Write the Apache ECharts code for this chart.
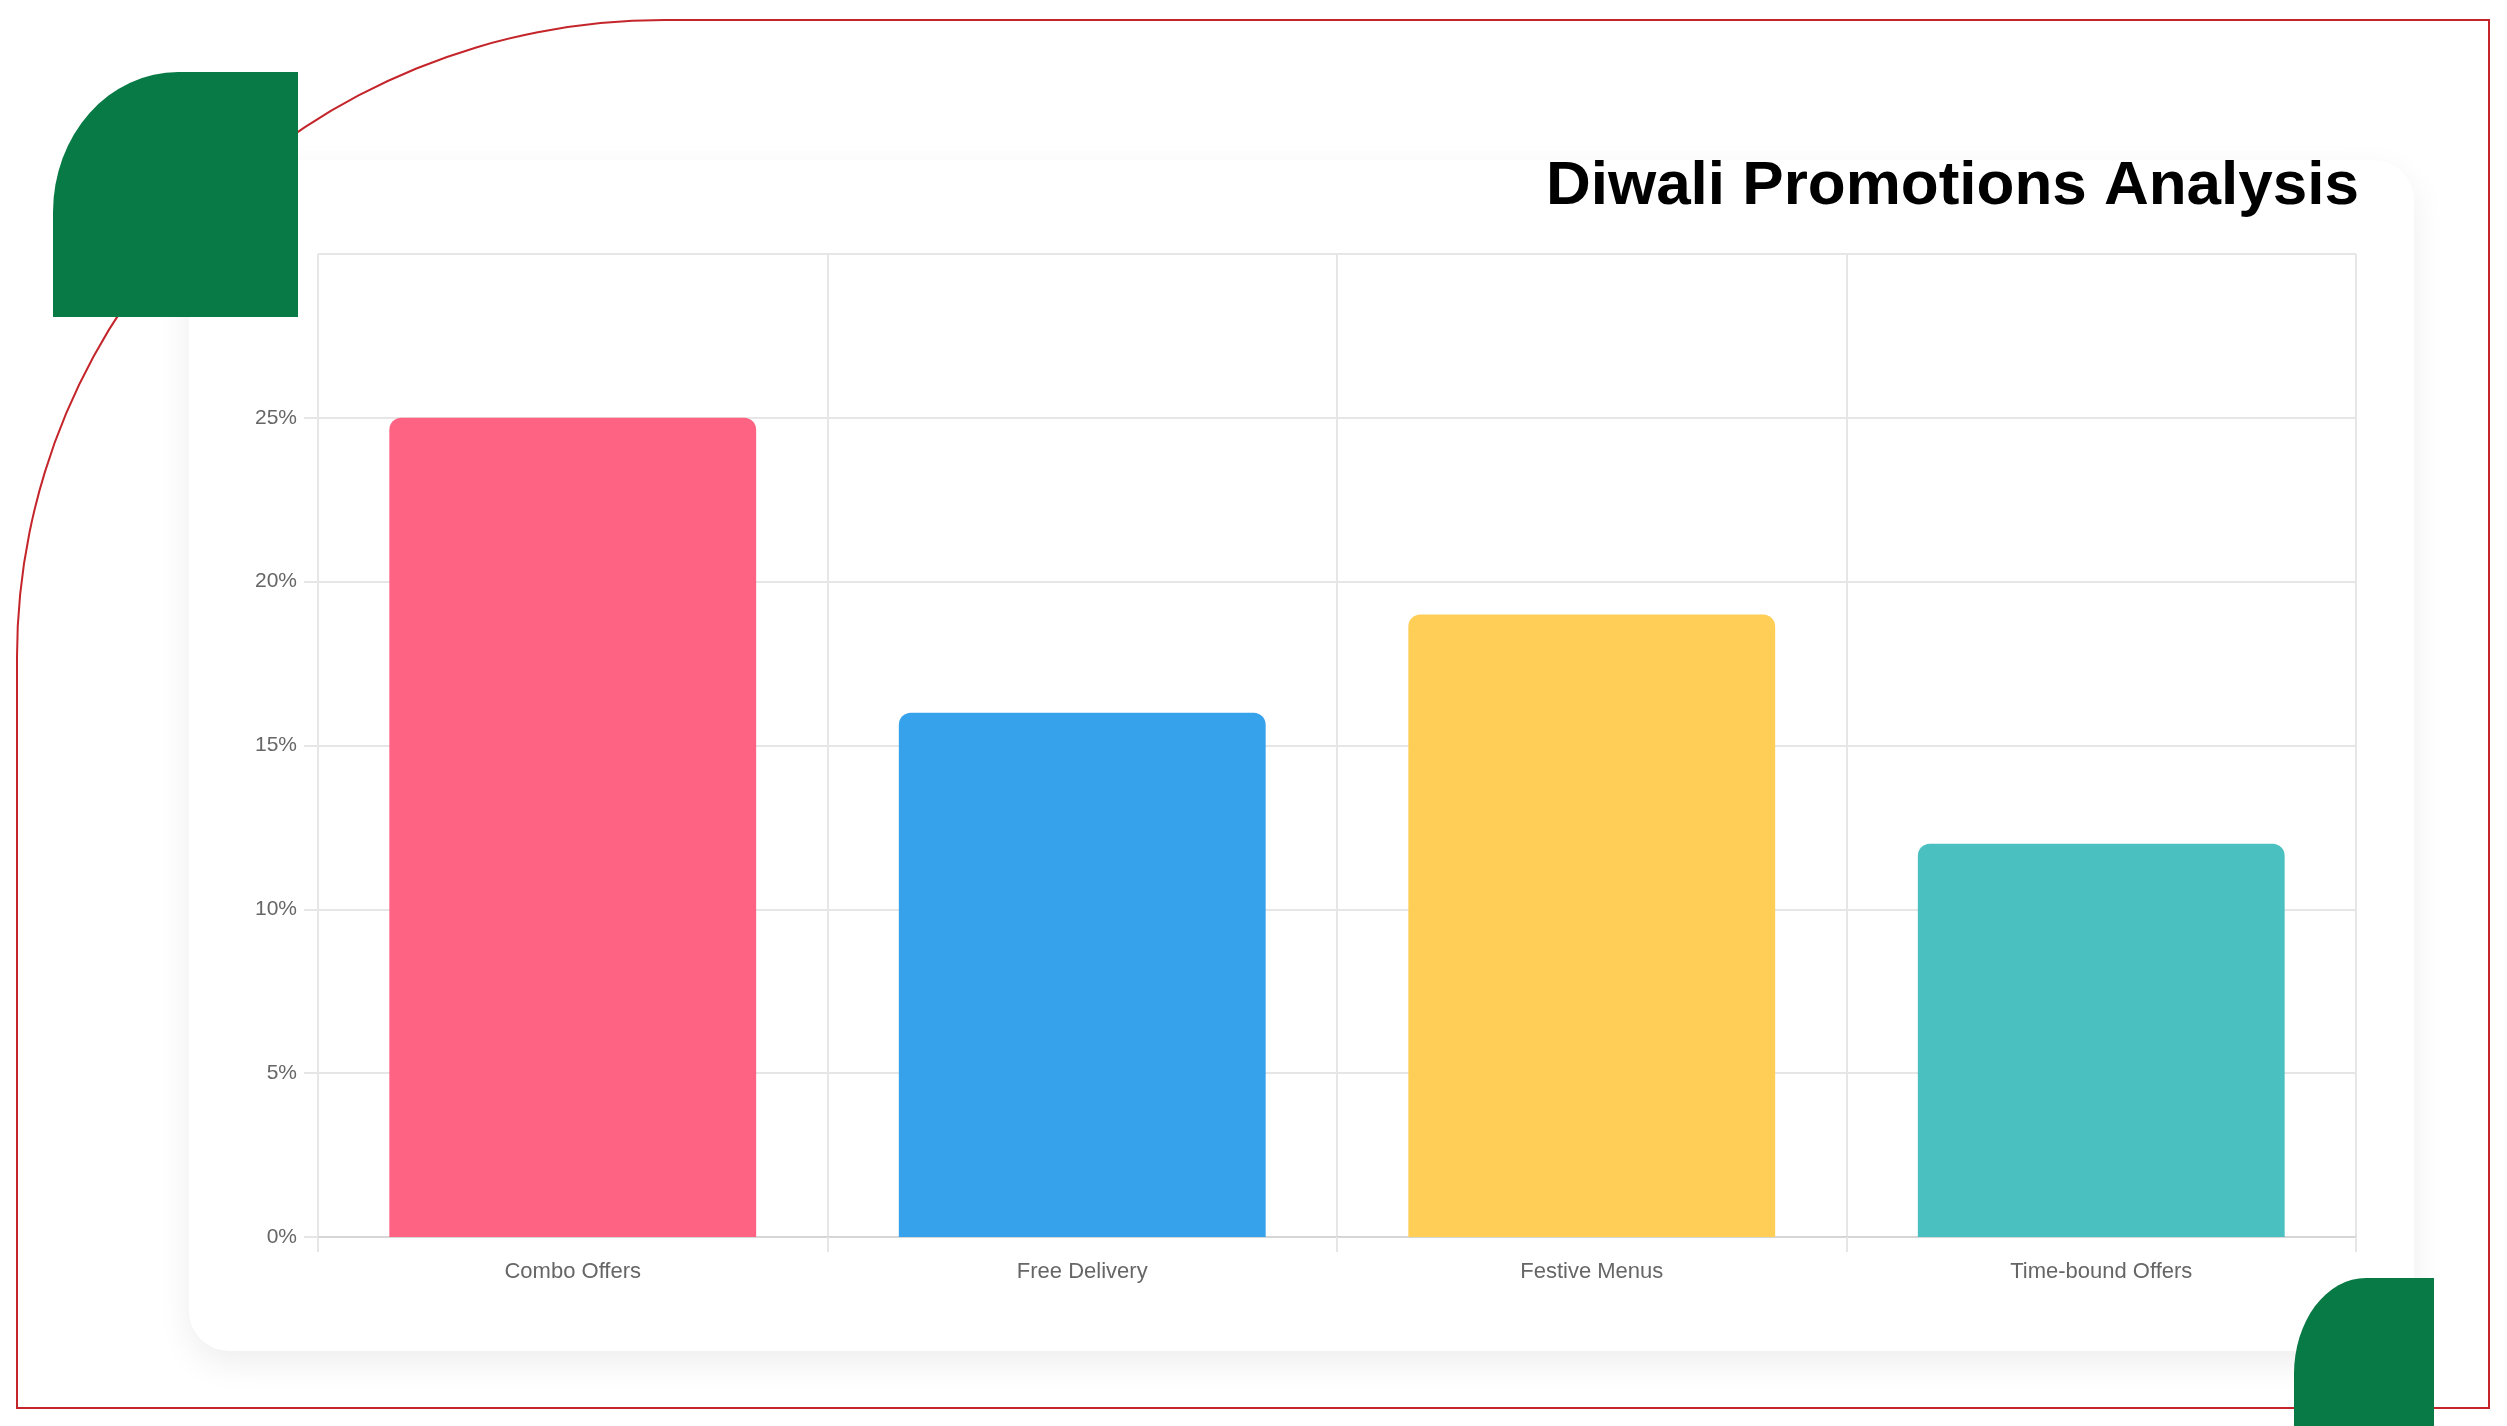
<!DOCTYPE html>
<html>
<head>
<meta charset="utf-8">
<title>Diwali Promotions Analysis</title>
<script src="https://cdn.jsdelivr.net/npm/echarts@6/dist/echarts.min.js"></script>
<style>
html, body { margin: 0; padding: 0; width: 2507px; height: 1426px; background: #ffffff; overflow: hidden; }
.frame {
    position: absolute; left: 16px; top: 19px; width: 2474px; height: 1390px;
    border: 2px solid #c4252b; border-top-left-radius: 648px 638px; box-sizing: border-box;
}
.card {
    position: absolute; left: 189px; top: 160px; width: 2225px; height: 1191px;
    background: #ffffff; border-radius: 40px;
    box-shadow: 0 12px 34px rgba(0, 0, 0, 0.07);
}
#chart { position: absolute; left: 0; top: 0; width: 2507px; height: 1426px; }
.leaf { position: absolute; background: #077a45; }
.leaf.tl { left: 53px; top: 72px; width: 245px; height: 245px; border-top-left-radius: 125px 140px; }
.leaf.br { left: 2294px; top: 1278px; width: 140px; height: 148px; border-top-left-radius: 72px 96px; }
</style>
</head>
<body>
<div class="frame"></div>
<div class="card"></div>
<div id="chart"></div>
<div class="leaf tl"></div>
<div class="leaf br"></div>
<script>
// promotion types and their share (%)
var promoNames = ['Combo Offers', 'Free Delivery', 'Festive Menus', 'Time-bound Offers'];
var promoShare = [25, 16, 19, 12];
var barColors = ['#FF6384', '#36A2EB', '#FFCE56', '#4BC0C0'];

var gridColor = '#e6e6e6';

var optionPromo = {
    animation: false,
    title: {
        text: 'Diwali Promotions Analysis',
        right: 143,
        top: 151,
        textStyle: {
            fontFamily: 'Liberation Sans, Arial, sans-serif',
            fontSize: 62,
            fontWeight: 'bold',
            color: '#000000'
        }
    },
    grid: {
        left: 318,
        right: 151,
        top: 254,
        bottom: 189,
        containLabel: false
    },
    xAxis: [{
        type: 'category',
        data: promoNames,
        axisLine: { show: true, lineStyle: { color: '#d6d6d6', width: 2 } },
        axisTick: { show: true, length: 15, lineStyle: { color: gridColor, width: 2 } },
        splitLine: { show: true, lineStyle: { color: gridColor, width: 2 } },
        axisLabel: {
            margin: 24,
            fontFamily: 'Liberation Sans, Arial, sans-serif',
            fontSize: 22,
            color: '#666666'
        }
    }],
    yAxis: [{
        type: 'value',
        min: 0,
        max: 30,
        interval: 5,
        axisLine: { show: false },
        axisTick: { show: true, length: 14, lineStyle: { color: gridColor, width: 2 } },
        splitLine: { show: true, lineStyle: { color: gridColor, width: 2 } },
        axisLabel: {
            margin: 21,
            showMaxLabel: false,
            formatter: '{value}%',
            fontFamily: 'Liberation Sans, Arial, sans-serif',
            fontSize: 21,
            color: '#666666'
        }
    }],
    series: [{
        name: 'Share',
        type: 'bar',
        barWidth: '72%',
        data: promoShare.map(function (v, i) {
            return { value: v, itemStyle: { color: barColors[i] } };
        }),
        itemStyle: { borderRadius: [12, 12, 0, 0] }
    }]
};

var chartPromo = echarts.init(document.getElementById('chart'), null, { renderer: 'canvas' });
chartPromo.setOption(optionPromo);
</script>
</body>
</html>
